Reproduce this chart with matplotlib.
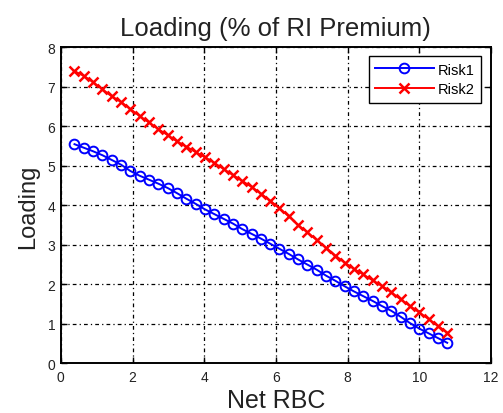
"""
Loading (% of RI Premium) vs Net RBC for two risks.
"""
import matplotlib
matplotlib.use("Agg")
import matplotlib.pyplot as plt

# Net RBC values (same grid for both risks)
net_rbc = [0.38, 0.64, 0.90, 1.16, 1.42, 1.68, 1.94, 2.20, 2.46, 2.72,
           2.98, 3.24, 3.50, 3.76, 4.02, 4.28, 4.54, 4.80, 5.06, 5.32,
           5.58, 5.84, 6.10, 6.36, 6.62, 6.88, 7.14, 7.40, 7.66, 7.92,
           8.18, 8.44, 8.70, 8.96, 9.22, 9.48, 9.74, 10.00, 10.26, 10.52,
           10.78]

risk1 = [5.55, 5.46, 5.37, 5.27, 5.15, 5.03, 4.87, 4.75, 4.65, 4.55,
         4.44, 4.31, 4.17, 4.04, 3.90, 3.78, 3.66, 3.54, 3.40, 3.28,
         3.16, 3.03, 2.90, 2.77, 2.63, 2.50, 2.37, 2.22, 2.09, 1.95,
         1.82, 1.70, 1.58, 1.45, 1.33, 1.18, 1.02, 0.88, 0.76, 0.64,
         0.52]

risk2 = [7.40, 7.28, 7.12, 6.94, 6.76, 6.62, 6.44, 6.26, 6.10, 5.93,
         5.78, 5.62, 5.49, 5.35, 5.22, 5.08, 4.92, 4.77, 4.62, 4.47,
         4.30, 4.12, 3.93, 3.72, 3.50, 3.32, 3.12, 2.93, 2.73, 2.55,
         2.39, 2.25, 2.10, 1.96, 1.80, 1.62, 1.45, 1.29, 1.12, 0.95,
         0.78]

X_TICKS = [0, 2, 4, 6, 8, 10, 12]
Y_TICKS = [0, 1, 2, 3, 4, 5, 6, 7, 8]

plt.rcParams["font.family"] = ["Liberation Sans", "DejaVu Sans"]

fig = plt.figure(figsize=(5.03, 4.14), dpi=100)
ax = fig.add_axes([0.121, 0.120, 0.855, 0.763])

ax.plot(net_rbc, risk1, color="blue", linewidth=1.4, marker="o",
        markersize=7, markerfacecolor="none", markeredgewidth=1.4,
        label="Risk1")
ax.plot(net_rbc, risk2, color="red", linewidth=1.4, marker="x",
        markersize=7, markeredgewidth=1.8, label="Risk2")

ax.set_xlim(0, 12)
ax.set_ylim(0, 8)
ax.set_xticks(X_TICKS)
ax.set_yticks(Y_TICKS)

ax.grid(True, color="black", linewidth=0.9, linestyle=(0, (3, 2.5, 1, 2.5)))
ax.tick_params(direction="in", top=True, right=True, length=4, width=1,
               labelsize=10, labelcolor="#222222")
ax.tick_params(axis="x", pad=5)
ax.tick_params(axis="y", pad=4)
for sp in ax.spines.values():
    sp.set_linewidth(1.4)

ax.set_title("Loading (% of RI Premium)", fontsize=18.5, pad=9, color="#222222")
ax.set_xlabel("Net RBC", fontsize=18, labelpad=3, color="#222222")
ax.set_ylabel("Loading", fontsize=17, labelpad=6, color="#222222")

leg = ax.legend(loc="upper right", bbox_to_anchor=(0.978, 0.973),
                borderaxespad=0, fancybox=False, framealpha=1,
                edgecolor="black", fontsize=10.5, handlelength=4.0,
                handletextpad=0.3, labelspacing=0.4, borderpad=0.45)
leg.get_frame().set_linewidth(1.0)

fig.savefig("out.png", dpi=100)
plt.close(fig)
